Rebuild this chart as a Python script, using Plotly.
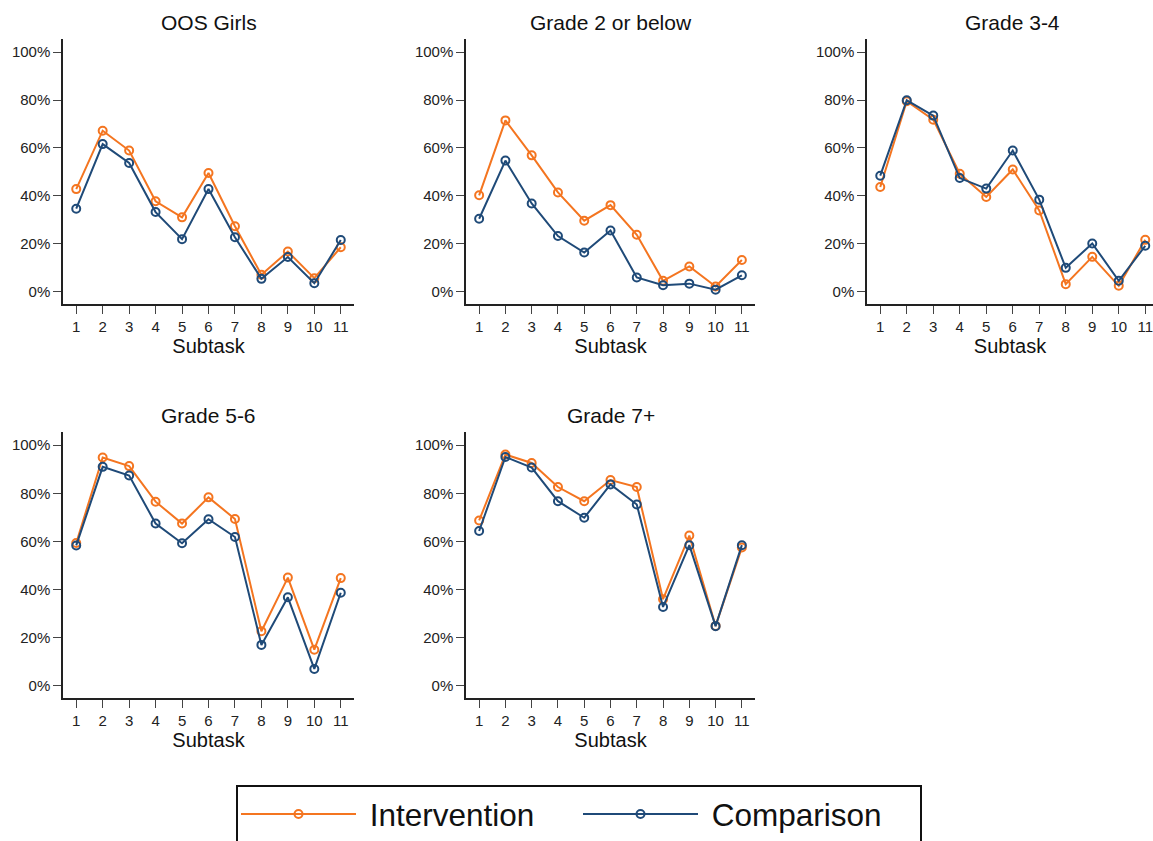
import plotly.graph_objects as go

# Subtask scores (% correct) by group
subtasks = list(range(1, 12))
panel_titles = ["OOS Girls", "Grade 2 or below", "Grade 3-4", "Grade 5-6", "Grade 7+"]

oos_intervention = [42.8, 67.2, 58.9, 37.7, 31.0, 49.5, 27.3, 7.0, 16.7, 5.6, 18.5]
oos_comparison = [34.6, 61.6, 53.7, 33.2, 21.9, 42.8, 22.7, 5.3, 14.4, 3.5, 21.5]

g2_intervention = [40.2, 71.5, 56.9, 41.4, 29.6, 36.1, 23.7, 4.5, 10.5, 2.1, 13.2]
g2_comparison = [30.4, 54.7, 36.8, 23.2, 16.3, 25.5, 5.9, 2.6, 3.3, 0.8, 6.8]

g34_intervention = [43.7, 79.5, 71.8, 49.2, 39.5, 51.0, 33.9, 3.1, 14.5, 2.4, 21.6]
g34_comparison = [48.4, 79.9, 73.5, 47.4, 43.0, 58.9, 38.4, 9.9, 20.1, 4.5, 19.1]

g56_intervention = [59.3, 94.9, 91.3, 76.5, 67.4, 78.3, 69.3, 22.6, 44.9, 14.9, 44.7]
g56_comparison = [58.3, 91.0, 87.4, 67.4, 59.2, 69.2, 61.8, 16.9, 36.7, 6.9, 38.6]

g7_intervention = [68.7, 96.1, 92.6, 82.6, 76.7, 85.5, 82.6, 35.9, 62.4, 24.8, 57.4]
g7_comparison = [64.3, 95.1, 90.7, 76.7, 69.8, 83.7, 75.3, 32.7, 58.4, 24.7, 58.4]

intervention = [oos_intervention, g2_intervention, g34_intervention, g56_intervention, g7_intervention]
comparison = [oos_comparison, g2_comparison, g34_comparison, g56_comparison, g7_comparison]

y_ticks = [0, 20, 40, 60, 80, 100]
y_tick_text = ["0%", "20%", "40%", "60%", "80%", "100%"]

ORANGE = "#f47520"
NAVY = "#1f4a78"
FONT = "Liberation Sans, Arial, sans-serif"

W, H = 1153, 841

# panel boxes in pixels: (left, right, top, bottom)
boxes = [
    (63, 354, 39, 304),
    (466, 755, 39, 304),
    (867, 1153, 39, 304),
    (63, 354, 432, 698),
    (466, 755, 432, 698),
]

fig = go.Figure()

for i, (title, yi, yc) in enumerate(zip(panel_titles, intervention, comparison)):
    n = i + 1
    xa = "x" if n == 1 else f"x{n}"
    ya = "y" if n == 1 else f"y{n}"
    fig.add_trace(go.Scatter(
        x=subtasks, y=yi, mode="lines+markers", name="\u00a0Intervention",
        line=dict(color=ORANGE, width=2),
        marker=dict(symbol="circle-open", size=8, color=ORANGE, line=dict(width=2)),
        xaxis=xa, yaxis=ya, showlegend=(n == 1), legendgroup="int",
    ))
    fig.add_trace(go.Scatter(
        x=subtasks, y=yc, mode="lines+markers", name="\u00a0Comparison",
        line=dict(color=NAVY, width=2),
        marker=dict(symbol="circle-open", size=8, color=NAVY, line=dict(width=2)),
        xaxis=xa, yaxis=ya, showlegend=(n == 1), legendgroup="cmp",
    ))

    left, right, top, bottom = boxes[i]
    x_hi = 11.5 if n != 3 else 0.5 + (right - left) / 26.5
    axis_common = dict(
        showline=True, linecolor="#222222", linewidth=1.5,
        ticks="outside", ticklen=8, tickwidth=1.3, tickcolor="#444444",
        showgrid=False, zeroline=False, automargin=False,
        ticklabeloverflow="allow",
        tickfont=dict(family=FONT, size=15, color="#222222"),
    )
    fig.layout[f"xaxis{'' if n == 1 else n}"] = dict(
        domain=[left / W, right / W], anchor=ya,
        range=[0.5, x_hi], tickmode="array", tickvals=subtasks,
        title=dict(text="Subtask", font=dict(family=FONT, size=20, color="#111111"), standoff=2),
        **axis_common,
    )
    fig.layout[f"yaxis{'' if n == 1 else n}"] = dict(
        domain=[1 - bottom / H, 1 - top / H], anchor=xa,
        range=[-5.2, 105.5], tickmode="array", tickvals=y_ticks, ticktext=y_tick_text,
        **axis_common,
    )
    fig.add_annotation(
        text=title, xref="paper", yref="paper",
        x=(left + right) / 2 / W if n != 3 else (867 + 1158) / 2 / W,
        y=1 - (top - 17) / H, xanchor="center", yanchor="middle",
        showarrow=False, font=dict(family=FONT, size=21, color="#111111"),
    )

fig.update_layout(
    width=W, height=H, autosize=False,
    margin=dict(l=0, r=0, t=0, b=0, autoexpand=False),
    paper_bgcolor="white", plot_bgcolor="white",
    showlegend=True,
    legend=dict(
        orientation="h", x=236 / W, y=1 - 785 / H, xanchor="left", yanchor="top",
        bordercolor="#111111", borderwidth=2, bgcolor="white",
        font=dict(family=FONT, size=31.5, color="#111111"),
        itemwidth=115, entrywidth=212, entrywidthmode="pixels",
    ),
)

fig.write_html("out.html")
